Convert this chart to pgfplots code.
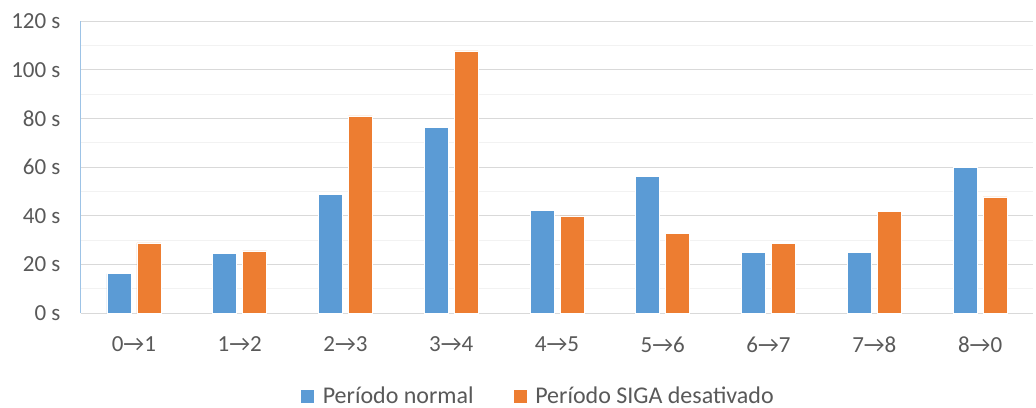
\documentclass[border=0pt]{standalone}
\usepackage{pgfplots}
\pgfplotsset{compat=1.18}
\usepackage{fontspec}
\setmainfont{Carlito}
\definecolor{cblue}{HTML}{5B9BD5}
\definecolor{corange}{HTML}{ED7D31}
\definecolor{txt}{HTML}{595959}
\definecolor{gmaj}{HTML}{D9D9D9}
\definecolor{gmin}{HTML}{F2F2F2}
\definecolor{yax}{HTML}{9DC3E6}
\begin{document}
\begin{tikzpicture}
\path[use as bounding box] (-81pt,-94pt) rectangle (955pt,313pt);
\begin{axis}[
  at={(0pt,0pt)}, anchor=south west,
  scale only axis,
  width=952pt, height=292pt,
  ymin=0, ymax=120,
  xmin=-0.5, xmax=8.5,
  ybar=6pt, bar width=24pt,
  axis x line*=bottom, axis y line*=left,
  x axis line style={gmaj, line width=1pt, -},
  y axis line style={yax, line width=1pt, -},
  ytick={0,20,...,120},
  yticklabels={0 s,20 s,40 s,60 s,80 s,100 s,120 s},
  minor y tick num=1,
  ymajorgrids, yminorgrids,
  major grid style={gmaj, line width=1pt},
  minor grid style={gmin, line width=1pt},
  major tick length=0pt, minor tick length=0pt,
  xtick={0,...,8},
  xticklabels={0→1,1→2,2→3,3→4,4→5,5→6,6→7,7→8,8→0},
  tick label style={font=\fontsize{23}{27}\selectfont, text=txt},
  yticklabel style={xshift=-17pt},
  xticklabel style={yshift=-20pt},
  legend columns=2,
  legend style={draw=none, at={(rel axis cs:0.48,-0.284)}, anchor=center,
    font=\fontsize{24}{28}\selectfont, text=txt,
    /tikz/every even column/.append style={column sep=37pt},
    inner sep=0pt, outer sep=0pt},
  legend image code/.code={\fill[#1] (0pt,-7pt) rectangle (14pt,7pt); \path (20pt,0pt);},
  clip=false,
]
\addplot[fill=cblue, draw=white, line width=0.6pt] coordinates {
(0,16.2) (1,24.4) (2,48.6) (3,76.2) (4,42.3) (5,56.2) (6,24.9) (7,24.9) (8,60.0)};
\addplot[fill=corange, draw=white, line width=0.6pt] coordinates {
(0,28.8) (1,25.5) (2,81.0) (3,107.7) (4,39.9) (5,32.7) (6,28.5) (7,41.9) (8,47.7)};
\legend{Período normal, Período SIGA desativado}
\end{axis}
\end{tikzpicture}
\end{document}
